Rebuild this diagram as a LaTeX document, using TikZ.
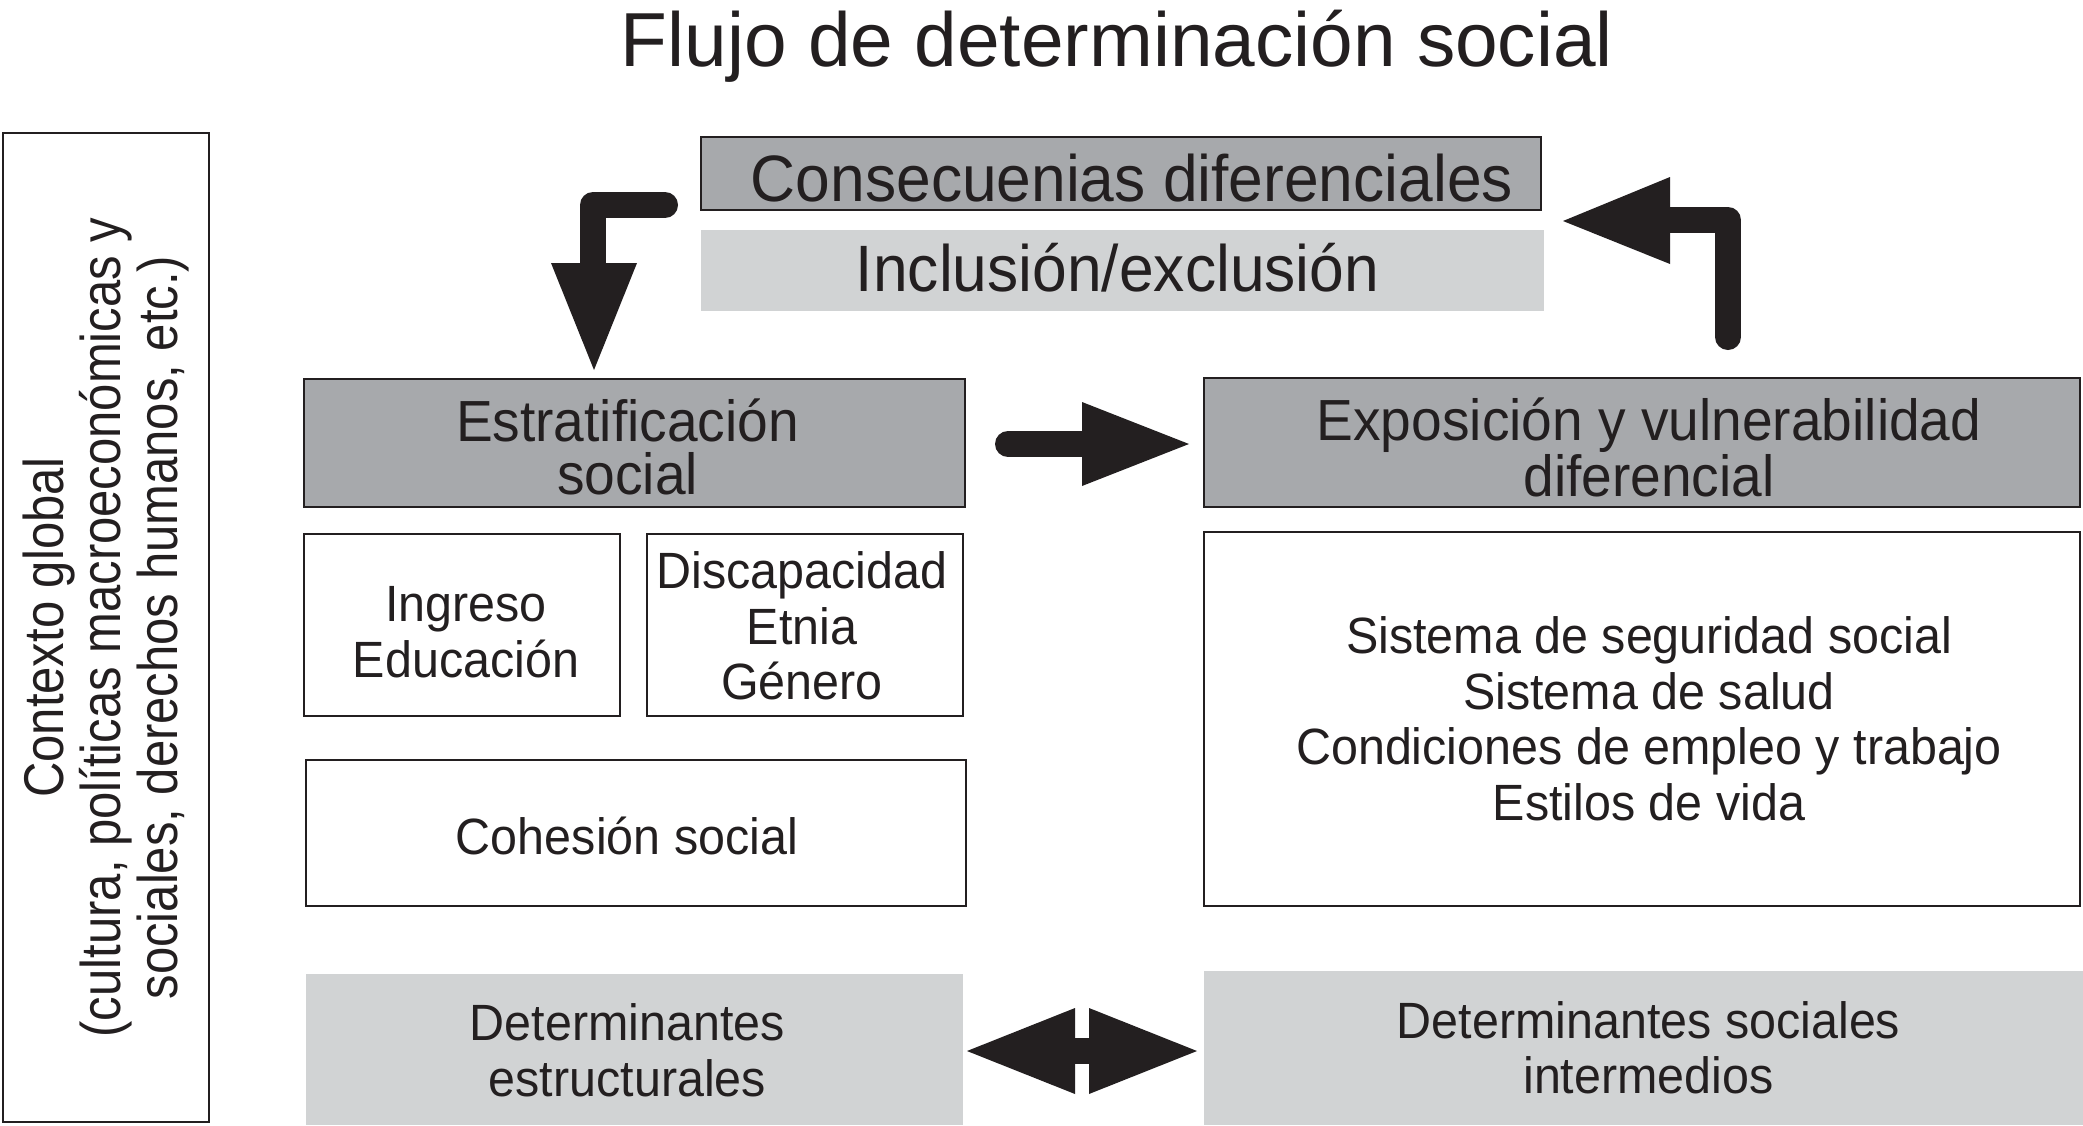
\documentclass[tikz,border=0pt]{standalone}
\usepackage{fontspec}
\setmainfont{Liberation Sans}
\newfontfamily\condB[FakeStretch=0.95]{Liberation Sans}
\newfontfamily\condC[FakeStretch=0.875]{Liberation Sans}
\definecolor{ink}{HTML}{231F20}
\definecolor{midgray}{HTML}{A7A9AC}
\definecolor{lightgray}{HTML}{D1D3D4}
\definecolor{edge}{HTML}{231F20}
\tikzset{
  base/.style={inner sep=0pt, text=ink, align=center},
  darkbox/.style={base, fill=midgray, draw=edge, line width=1pt},
  lightbox/.style={base, fill=lightgray, draw=none},
  whitebox/.style={base, fill=white, draw=edge, line width=1pt},
  headfont/.style={base, font=\condB\fontsize{32.8}{38}\selectfont},
  midfont/.style={base, font=\condB\fontsize{29}{26.5}\selectfont},
  smallfont/.style={base, font=\condB\fontsize{25.5}{27.75}\selectfont},
  sidefont/.style={base, font=\condC\fontsize{28}{28.5}\selectfont},
  arrowbar/.style={draw=ink, line width=13pt, line join=round, line cap=round},
  arrowhead/.style={fill=ink, draw=none},
}
\begin{document}
\begin{tikzpicture}[x=0.5pt, y=-0.5pt]
\useasboundingbox (0,0) rectangle (2083,1125);
\fill[white] (0,0) rectangle (2083,1125);

% title
\node[base, anchor=base, font=\fontsize{38.3}{44}\selectfont] (title) at (1117,66) {Flujo de determinación social};

% left context box
\node[whitebox, minimum width=103pt, minimum height=494.5pt] (context) at (106,627.5) {};
\node[sidefont, rotate=90] (context-t) at (context.center) {Contexto global\\(cultura, políticas macroeconómicas y\\sociales, derechos humanos, etc.)};

% top boxes
\node[darkbox, minimum width=420pt, minimum height=36.5pt] (cons) at (1121,173.5) {};
\node[headfont] (cons-t) at ([xshift=5.5pt, yshift=-2.5pt]cons.center) {Consecuenias diferenciales};
\node[lightbox, minimum width=421.5pt, minimum height=40.5pt] (incl) at (1122.5,270.5) {};
\node[headfont] (incl-t) at ([xshift=-2.5pt, yshift=1.5pt]incl.center) {Inclusión/exclusión};

% headers
\node[darkbox, minimum width=330.5pt, minimum height=64pt] (estrat) at (634.5,443) {};
\node[midfont] (estrat-t) at ([xshift=-3.5pt, yshift=-2pt]estrat.center) {Estratificación\\social};
\node[darkbox, minimum width=438pt, minimum height=64.5pt] (expos) at (1642,442.5) {};
\node[midfont] (expos-t) at ([xshift=3.5pt, yshift=-2.5pt]expos.center) {Exposición y vulnerabilidad\\diferencial};

% white boxes
\node[whitebox, minimum width=158pt, minimum height=91pt] (ingreso) at (462,625) {};
\node[smallfont] (ingreso-t) at ([xshift=2pt, yshift=-3.5pt]ingreso.center) {Ingreso\\Educación};
\node[whitebox, minimum width=158pt, minimum height=91pt] (discap) at (805,625) {};
\node[smallfont] (discap-t) at ([xshift=-1.5pt, yshift=-0.5pt]discap.center) {Discapacidad\\Etnia\\Género};
\node[whitebox, minimum width=330pt, minimum height=73pt] (cohesion) at (636,833) {};
\node[smallfont] (cohesion-t) at ([xshift=-4.5pt, yshift=-1.5pt]cohesion.center) {Cohesión social};
\node[whitebox, minimum width=438pt, minimum height=187pt] (sistema) at (1642,719) {};
\node[smallfont] (sistema-t) at ([xshift=3.5pt]sistema.center) {Sistema de seguridad social\\Sistema de salud\\Condiciones de empleo y trabajo\\Estilos de vida};

% bottom boxes
\node[lightbox, minimum width=328.5pt, minimum height=75.5pt] (detest) at (634.5,1049.5) {};
\node[smallfont] (detest-t) at ([xshift=-3.5pt, yshift=-0.5pt]detest.center) {Determinantes\\estructurales};
\node[lightbox, minimum width=439.5pt, minimum height=77pt] (detint) at (1643.5,1048) {};
\node[smallfont] (detint-t) at ([xshift=2.5pt]detint.center) {Determinantes sociales\\intermedios};

% arrow 1: consecuencias -> estratificacion
\coordinate (a1s) at (665,205);
\coordinate (a1c) at (593,205);
\coordinate (a1e) at (593,270);
\draw[arrowbar] (a1s) -- (a1c) -- (a1e);
\fill[arrowhead] (551,263) -- (637,263) -- (594,370) -- cycle;

% arrow 2: exposicion -> consecuencias
\coordinate (a2s) at (1728,337);
\coordinate (a2c) at (1728,220);
\coordinate (a2e) at (1665,220);
\draw[arrowbar] (a2s) -- (a2c) -- (a2e);
\fill[arrowhead] (1670,177) -- (1670,264) -- (1563,221) -- cycle;

% arrow 3: estratificacion -> exposicion
\coordinate (a3s) at (1008,444);
\coordinate (a3e) at (1088,444);
\draw[arrowbar] (a3s) -- (a3e);
\fill[arrowhead] (1082,402) -- (1082,486) -- (1189,444) -- cycle;

% arrow 4: double arrow between determinantes
\fill[arrowhead] (1075,1008) -- (1075,1094) -- (967,1051) -- cycle;
\fill[arrowhead] (1089,1008) -- (1089,1094) -- (1197,1051) -- cycle;
\fill[arrowhead] (1074,1038) rectangle (1090,1064);
\end{tikzpicture}
\end{document}
